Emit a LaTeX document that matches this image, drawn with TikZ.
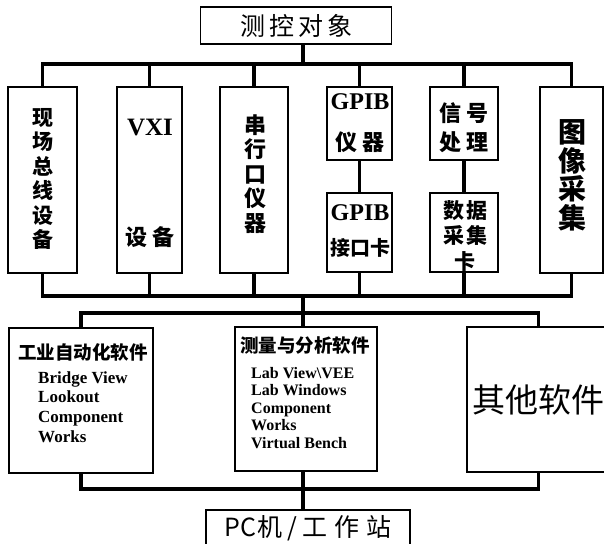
\documentclass[tikz,border=0pt]{standalone}
\usepackage{fontspec}
\setmainfont{Liberation Serif}
\newfontfamily\cjk{Noto Sans CJK SC}
\newcommand{\fs}[2]{\fontsize{#1}{#2}\selectfont}
\begin{document}
\begin{tikzpicture}[x=1pt,y=-1pt,
  box/.style={draw, line width=1.8pt, inner sep=0pt},
  bus/.style={line width=3.5pt, line join=miter},
  txt/.style={inner sep=0pt, align=center},
  lat/.style={inner sep=0pt, align=left}]
\useasboundingbox (0,0) rectangle (604,543);
\fill[white] (0,0) rectangle (604,543);

% top object
\node[box, minimum width=191pt, minimum height=37pt, font=\cjk\fs{25}{25}] (top) at (296,25.5)
  {测\hspace{4pt}控\hspace{4pt}对\hspace{4pt}象};

% hardware boxes
\node[box, minimum width=69pt, minimum height=186pt] (b1) at (42.5,180) {};
\node[box, minimum width=65pt, minimum height=186pt] (b2) at (149.5,180) {};
\node[box, minimum width=68pt, minimum height=186pt] (b3) at (254,180) {};
\node[box, minimum width=65pt, minimum height=73pt] (b4a) at (359.5,123.5) {};
\node[box, minimum width=65pt, minimum height=79pt] (b4b) at (359.5,232.5) {};
\node[box, minimum width=68pt, minimum height=73pt] (b5a) at (464,123.5) {};
\node[box, minimum width=68pt, minimum height=79pt] (b5b) at (464,232.5) {};
\node[box, minimum width=63pt, minimum height=186pt] (b6) at (571.5,180) {};

% hardware texts
\node[txt, font=\cjk\bfseries\fs{21}{24.5}] (t1) at (42.5,179) {现\\场\\总\\线\\设\\备};
\node[txt, font=\bfseries\fs{25}{25}] (t2a) at (150,128) {VXI};
\node[txt, font=\cjk\bfseries\fs{22}{22}] (t2b) at (150,237) {设\hspace{6pt}备};
\node[txt, font=\cjk\bfseries\fs{22}{24.5}] (t3) at (255,174) {串\\行\\口\\仪\\器};
\node[txt, font=\bfseries\fs{24}{24}] (t4a) at (360,102) {GPIB};
\node[txt, font=\cjk\bfseries\fs{22}{22}] (t4b) at (360,142) {仪\hspace{5pt}器};
\node[txt, font=\bfseries\fs{24}{24}] (t4c) at (360,213) {GPIB};
\node[txt, font=\cjk\bfseries\fs{20}{20}] (t4d) at (360,248) {接口卡};
\node[txt, font=\cjk\bfseries\fs{22}{29}] (t5a) at (464,127.5) {信\hspace{5pt}号\\处\hspace{5pt}理};
\node[txt, font=\cjk\bfseries\fs{21}{25.5}] (t5b) at (465,235.5) {数\hspace{2pt}据\\采\hspace{2pt}集\\卡};
\node[txt, font=\cjk\bfseries\fs{28}{28.5}] (t6) at (572,175.5) {图\\像\\采\\集};

% software boxes
\node[box, minimum width=144pt, minimum height=145pt] (s1) at (81,400.5) {};
\node[box, minimum width=142pt, minimum height=144pt] (s2) at (306,399) {};
\node[box, minimum width=143pt, minimum height=145pt, font=\cjk\fs{33}{33}] (s3) at (538.5,399.5) {其他软件};

\node[txt, font=\cjk\bfseries\fs{18.5}{18.5}] (h1) at (83,352) {工业自动化软件};
\node[lat, anchor=north west, font=\bfseries\fs{17}{19.7}] (l1) at (38,371)
  {Bridge View\\Lookout\\Component\\Works};
\node[txt, font=\cjk\bfseries\fs{18.5}{18.5}] (h2) at (305,345) {测量与分析软件};
\node[lat, anchor=north west, font=\bfseries\fs{16}{17.5}] (l2) at (251,367)
  {Lab View\textbackslash VEE\\Lab Windows\\Component\\Works\\Virtual Bench};

% PC box
\node[box, minimum width=204pt, minimum height=36pt, font=\cjk\fs{25}{25}] (pc) at (308,528)
  {PC\hspace{2pt}机\hspace{5pt}/\hspace{5pt}工\hspace{7pt}作\hspace{7pt}站};

% bus coordinates
\coordinate (tb) at (303,64);
\coordinate (hb) at (303,296);
\coordinate (sb) at (303,313);
\coordinate (lb) at (303,489);

% top bus
\draw[bus] (top.south -| tb) -- (tb);
\draw[bus] (b1.north) |- (tb) -| (b6.north);
\draw[bus] (b2.north) -- (b2.north |- tb);
\draw[bus] (b3.north) -- (b3.north |- tb);
\draw[bus] (b4a.north) -- (b4a.north |- tb);
\draw[bus] (b5a.north) -- (b5a.north |- tb);
\draw[bus] (b4a.south) -- (b4b.north);
\draw[bus] (b5a.south) -- (b5b.north);

% hardware bottom bus
\draw[bus] (b1.south) |- (hb) -| (b6.south);
\draw[bus] (b2.south) -- (b2.south |- hb);
\draw[bus] (b3.south) -- (b3.south |- hb);
\draw[bus] (b4b.south) -- (b4b.south |- hb);
\draw[bus] (b5b.south) -- (b5b.south |- hb);

% spine to software
\draw[bus] (hb) -- (s2.north -| hb);
\draw[bus] (s1.north) |- (sb) -| (s3.north);

% software lower bus
\draw[bus] (s1.south) |- (lb) -| (s3.south);
\draw[bus] (s2.south -| lb) -- (pc.north -| lb);
\end{tikzpicture}
\end{document}
